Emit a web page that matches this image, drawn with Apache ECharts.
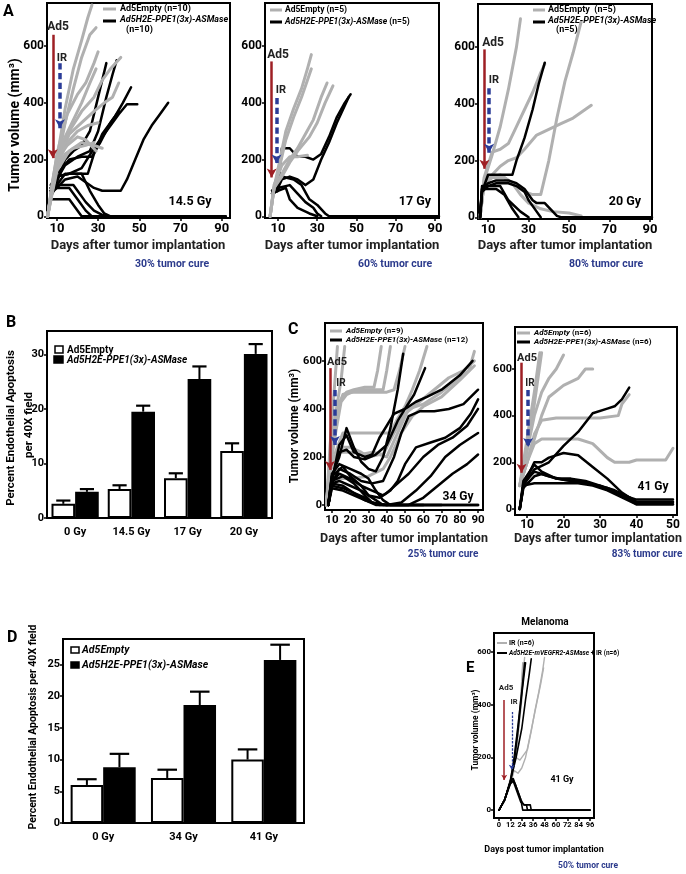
<!DOCTYPE html>
<html><head><meta charset="utf-8">
<script src="https://cdn.jsdelivr.net/npm/echarts@6/dist/echarts.min.js"></script>
<style>html,body{margin:0;padding:0;background:#fff}#c{width:686px;height:874px}</style>
</head><body><div id="c"></div>
<script>
const FONT = 'Roboto, "Noto Sans", Arial, sans-serif';
const GRAY = '#b0b0b0', RED = '#9e1f24', BLUE = '#2b3c98', NAVY = '#2b3a8c';

// ---------- tick labels ----------
const aTicksX = [10, 30, 50, 70, 90];
const volTicks = [0, 200, 400, 600];
const c1TicksX = [10, 20, 30, 40, 50, 60, 70, 80, 90];
const c2TicksX = [10, 20, 30, 40, 50];
const eTicksX = [0, 12, 24, 36, 48, 60, 72, 84, 96];
const bTicksY = [0, 10, 20, 30];
const dTicksY = [0, 5, 10, 15, 20, 25];

// ---------- Panel A: 14.5 Gy ----------
const a1Gray = [
  [[5.5,0],[8,120],[10,200],[14,380],[18,520],[22,620],[25,700],[27,745]],
  [[5.5,0],[8,110],[10,180],[14,330],[18,450],[22,560],[26,640],[29,665]],
  [[5.5,0],[8,120],[10,220],[15,360],[20,430],[24,470],[28,540],[30,580]],
  [[5.5,0],[8,110],[10,200],[16,300],[22,370],[28,420],[32,480],[36,520],[41,560]],
  [[5.5,0],[8,110],[10,190],[16,290],[22,330],[28,370],[33,400],[37,420],[40,470]],
  [[5.5,0],[8,100],[10,180],[15,260],[20,300],[25,320],[30,330]],
  [[5.5,0],[8,90],[10,160],[16,230],[22,260],[28,250],[32,240]],
  [[5.5,0],[8,120],[10,200],[15,250],[20,280],[24,270],[29,230]],
  [[5.5,0],[8,100],[10,170],[14,220],[18,240],[24,250],[28,260]],
  [[5.5,0],[8,130],[10,210],[14,280],[18,340],[22,400],[26,470],[29,520]]
];
const a1Black = [
  [[7,80],[10,120],[14,200],[18,230],[22,250],[26,300],[30,420],[34,540]],
  [[7,90],[10,130],[14,180],[20,210],[26,230],[30,300],[34,420],[37,500],[39,550]],
  [[7,70],[10,110],[14,150],[20,150],[25,150],[28,220],[32,290],[38,350],[42,400],[46,455]],
  [[7,90],[10,140],[16,150],[22,170],[28,240],[34,300],[40,360],[44,395],[49,395]],
  [[7,80],[10,100],[14,130],[20,140],[24,120],[28,100],[32,90],[41,90],[44,130],[48,200],[52,270],[56,320],[60,360],[64,400]],
  [[7,60],[10,60],[16,60],[19,30],[22,0],[92,0]],
  [[7,90],[10,100],[16,100],[20,60],[24,20],[27,0]],
  [[7,100],[10,110],[18,110],[24,50],[28,20],[32,5],[35,0]],
  [[7,110],[10,140],[16,150],[22,150],[26,90],[30,40],[33,10],[36,0]],
  [[7,100],[10,150],[16,200],[22,210],[27,210],[31,260],[36,330],[40,370]]
];
// ---------- Panel A: 17 Gy ----------
const a2Gray = [
  [[6,0],[8,100],[11,200],[14,300],[18,380],[22,450],[25,520],[27,570]],
  [[6,0],[8,100],[11,180],[14,270],[18,350],[22,420],[25,480],[27,520]],
  [[6,0],[8,100],[12,150],[16,200],[20,240],[24,290],[28,340],[32,420],[35,470]],
  [[6,0],[8,100],[12,140],[16,190],[20,230],[26,280],[30,330],[34,400],[38,460]],
  [[6,0],[8,110],[12,180],[16,210],[20,210],[25,215]]
];
const a2Black = [
  [[7,80],[10,90],[12,240],[16,240],[20,210],[24,210],[28,200],[32,220],[36,280],[40,350],[44,400],[47,430]],
  [[7,90],[10,100],[12,130],[16,140],[20,130],[24,110],[28,130],[32,200],[36,260],[40,330],[44,390],[46,420]],
  [[7,80],[10,100],[16,110],[20,80],[24,50],[28,30],[30,10],[32,0]],
  [[7,90],[10,110],[12,140],[18,130],[22,110],[26,60],[30,40],[34,10],[36,0],[92,0]],
  [[7,80],[10,90],[14,100],[16,60],[20,30],[26,10],[30,0]]
];
// ---------- Panel A: 20 Gy ----------
const a3Gray = [
  [[6,0],[8,130],[12,220],[16,320],[20,450],[24,600],[26,700]],
  [[6,0],[8,140],[12,230],[16,240],[20,260],[24,320],[28,380],[32,440],[36,510],[38,540]],
  [[6,0],[8,120],[12,150],[16,180],[20,200],[24,210],[28,240],[34,290],[40,310],[46,330],[52,350],[58,380],[61,395]],
  [[6,0],[8,120],[12,140],[16,150],[20,130],[24,110],[28,90],[32,80],[36,80],[40,200],[44,350],[48,480],[52,580],[56,690]],
  [[6,0],[8,120],[12,140],[18,140],[22,120],[26,80],[30,50],[36,30],[42,20],[50,15],[56,5]]
];
const a3Black = [
  [[6,0],[7,90],[10,150],[14,150],[18,150],[22,150],[24,200],[28,280],[32,380],[35,470],[38,545]],
  [[6,0],[7,100],[10,120],[14,130],[20,130],[24,120],[28,100],[32,60],[34,50],[38,50],[42,20],[44,5],[46,0],[91,0]],
  [[6,0],[7,90],[10,110],[14,120],[20,120],[24,110],[28,90],[30,60],[34,20],[36,0]],
  [[6,0],[7,100],[10,100],[14,100],[18,80],[22,30],[25,0]],
  [[6,0],[7,110],[10,110],[16,110],[20,60],[26,20],[30,0]]
];
// ---------- Panel B ----------
const bCats = ['0 Gy', '14.5 Gy', '17 Gy', '20 Gy'];
const bEmpty = [2.6, 5.3, 7.3, 12.3];
const bEmptySem = [0.6, 0.7, 0.9, 1.4];
const bAsm = [4.8, 19.5, 25.5, 30.1];
const bAsmSem = [0.5, 1.1, 2.3, 1.8];
// ---------- Panel C: 34 Gy ----------
const c1Gray = [
  [[7,0],[9,250],[11,450],[13,660]],
  [[7,0],[9,200],[12,380],[15,520],[17,660]],
  [[7,0],[9,180],[12,350],[15,440],[18,470],[22,480],[28,490],[33,490],[35,560],[37,660]],
  [[7,0],[9,150],[12,300],[15,430],[18,460],[24,480],[30,480],[38,480],[40,560],[42,660]],
  [[7,0],[9,200],[12,380],[16,460],[20,470],[30,470],[40,470],[44,480],[47,560],[50,660]],
  [[7,0],[9,150],[12,220],[16,300],[20,300],[30,300],[38,300],[42,300],[46,360],[50,410],[54,480],[58,560],[62,660]],
  [[7,0],[9,150],[14,240],[20,240],[26,220],[30,200],[36,210],[40,200],[46,300],[52,400],[60,420],[70,470],[78,520],[85,560],[88,640]],
  [[7,0],[9,140],[14,220],[20,220],[26,210],[32,220],[38,210],[44,300],[50,380],[58,430],[66,480],[74,530],[82,560],[88,600]],
  [[7,0],[9,100],[14,110],[20,110],[30,120],[38,150],[42,200],[48,300],[54,370],[60,410],[70,450],[80,520],[88,580]]
];
const c1Black = [
  [[8,0],[10,120],[14,200],[18,320],[22,240],[26,180],[30,150],[34,140],[38,200],[42,320],[46,480],[49,630]],
  [[8,0],[10,100],[14,250],[18,290],[22,220],[28,200],[32,210],[36,280],[40,330],[44,380],[50,400],[55,460],[61,570]],
  [[8,0],[10,110],[14,220],[18,230],[22,200],[28,190],[34,210],[40,250],[46,350],[50,400],[56,430],[62,450],[70,480],[80,540],[87,600]],
  [[8,0],[10,90],[14,150],[20,130],[26,100],[32,90],[38,100],[44,200],[48,300],[52,370],[58,390],[66,390],[74,400],[82,420],[90,480]],
  [[8,0],[10,100],[14,130],[20,110],[26,80],[32,60],[38,40],[42,60],[46,100],[50,170],[56,240],[64,260],[72,280],[80,320],[86,380],[90,440]],
  [[8,0],[10,90],[14,100],[20,80],[26,60],[30,40],[36,30],[40,50],[46,90],[52,130],[60,200],[68,250],[76,280],[84,330],[90,400]],
  [[8,0],[10,80],[16,70],[22,50],[28,30],[32,10],[40,0],[48,10],[56,60],[64,120],[72,200],[80,250],[86,280],[90,300]],
  [[8,0],[10,70],[16,60],[22,40],[28,20],[34,0],[52,0],[60,30],[68,80],[76,130],[84,170],[90,210]],
  [[8,0],[10,90],[16,80],[22,50],[28,20],[34,5],[40,0],[90,0]],
  [[8,0],[10,100],[16,120],[22,90],[28,40],[32,10],[36,0],[90,0]],
  [[8,0],[10,120],[16,160],[20,120],[26,80],[30,40],[34,20],[38,0],[70,0]],
  [[8,0],[10,130],[14,170],[20,150],[26,130],[30,110],[34,60],[38,20],[42,0],[60,0]]
];
// ---------- Panel C: 41 Gy ----------
const c2Gray = [
  [[8,100],[10,300],[12,500],[13.5,670]],
  [[8,100],[10,250],[12,450],[14,670]],
  [[8,100],[10,250],[12,400],[14,500],[16,560],[18,600],[20,660]],
  [[8,100],[10,200],[12,300],[14,400],[16,480],[20,530],[24,560],[26,600],[28,600]],
  [[8,100],[10,200],[12,320],[14,380],[18,390],[22,390],[26,390],[30,390],[35,400],[36,450],[38,490]],
  [[8,100],[10,200],[12,280],[14,300],[20,300],[24,300],[28,280],[32,220],[34,200],[38,200],[40,210],[46,210],[48,210],[50,260]]
];
const c2Black = [
  [[8,0],[9,100],[12,170],[16,200],[20,270],[24,330],[28,410],[32,430],[34,440],[36,470],[38,520]],
  [[8,0],[9,100],[12,200],[14,200],[16,220],[20,240],[24,230],[28,180],[32,130],[36,70],[40,30],[50,30]],
  [[8,0],[9,120],[12,190],[14,160],[18,130],[22,120],[26,110],[30,100],[34,80],[38,50],[40,30],[50,30]],
  [[8,0],[9,90],[12,140],[14,150],[18,130],[22,130],[26,120],[30,100],[34,70],[38,40],[40,20],[50,20]],
  [[8,0],[9,100],[12,110],[16,110],[20,110],[24,110],[28,100],[32,80],[36,50],[40,20],[50,20]],
  [[8,0],[9,110],[12,160],[16,140],[20,125],[24,120],[28,105],[32,90],[36,60],[40,40],[50,40]]
];
// ---------- Panel D ----------
const dCats = ['0 Gy', '34 Gy', '41 Gy'];
const dEmpty = [6.0, 7.1, 10.0];
const dEmptySem = [0.9, 1.3, 1.6];
const dAsm = [8.8, 18.6, 25.7];
const dAsmSem = [2.1, 2.1, 2.4];
// ---------- Panel E: Melanoma ----------
const eGray = [
  [[0,0],[6,40],[12,110],[16,180],[20,300],[23,430],[25,560]],
  [[0,0],[6,40],[12,100],[16,170],[20,280],[24,420],[26,540],[27,580]],
  [[0,0],[6,40],[12,110],[17,200],[21,330],[24,470],[26,560]],
  [[0,0],[6,40],[12,110],[16,180],[18,200],[22,190],[26,210],[30,230],[34,300],[38,380],[42,450],[46,530],[48,580]],
  [[0,0],[6,35],[12,100],[16,150],[20,140],[24,160],[28,200],[32,270],[36,340],[40,410],[44,480],[47,540]],
  [[0,0],[6,40],[12,120],[16,200],[20,320],[24,460],[25,540]]
];
const eBlack = [
  [[0,0],[6,40],[12,110],[16,200],[20,320],[24,450],[27,560]],
  [[0,0],[6,40],[12,110],[18,200],[24,310],[28,420],[32,520],[34,575]],
  [[0,0],[6,40],[12,110],[14,120],[17,100],[20,70],[23,40],[25,0],[96,0]],
  [[0,0],[6,40],[12,105],[15,120],[19,80],[23,40],[26,20],[29,20],[30,0],[96,0]],
  [[0,0],[6,40],[12,100],[15,110],[19,70],[23,30],[27,20],[33,20],[34,0],[96,0]],
  [[0,0],[6,40],[12,110],[16,180],[20,300],[24,440],[28,560]]
];
// ---------- treatment arrows (data coords: [day, volume]) ----------
const arrA1 = {ad5: [[8,640],[8,205]], ir: [[11.5,540],[11.5,310]]};
const arrA2 = {ad5: [[6.8,546],[6.8,137]], ir: [[9.3,417],[9.3,186]]};
const arrA3 = {ad5: [[8.2,592],[8.2,171]], ir: [[10.5,455],[10.5,228]]};
const arrC1 = {ad5: [[8.9,570],[8.9,146]], ir: [[11.6,479],[11.6,250]]};
const arrC2 = {ad5: [[8.5,627],[8.5,155]], ir: [[10.3,510],[10.3,266]]};
const arrE  = {ad5: [[5.5,418],[5.5,114]], ir: [[13.5,373],[13.5,152]]};

// ================= build =================
const grids = [], xAxes = [], yAxes = [], series = [], graphics = [];

function addGrid(l, t, w, h) {
  grids.push({left: l, top: t, width: w, height: h, show: true, borderColor: '#000', borderWidth: 2, backgroundColor: 'rgba(0,0,0,0)'});
  return grids.length - 1;
}
function valX(gi, min, max, ticks, fs, margin) {
  xAxes.push({type: 'value', gridIndex: gi, min, max, splitLine: {show: false},
    axisLine: {show: true, onZero: false, lineStyle: {color: '#000', width: 2}},
    axisTick: {show: true, customValues: ticks, length: 3, lineStyle: {color: '#000', width: 1.5}},
    axisLabel: {customValues: ticks, fontFamily: FONT, fontWeight: 'bold', fontSize: fs, color: '#000', margin: margin || 4}});
}
function valY(gi, min, max, ticks, fs) {
  yAxes.push({type: 'value', gridIndex: gi, min, max, splitLine: {show: false},
    axisLine: {show: true, onZero: false, lineStyle: {color: '#000', width: 2}},
    axisTick: {show: true, customValues: ticks, length: 3, lineStyle: {color: '#000', width: 1.5}},
    axisLabel: {customValues: ticks, fontFamily: FONT, fontWeight: 'bold', fontSize: fs, color: '#000', margin: 3}});
}
function catX(gi, cats, fs) {
  xAxes.push({type: 'category', gridIndex: gi, data: cats,
    axisLine: {show: true, lineStyle: {color: '#000', width: 2}}, axisTick: {show: false},
    axisLabel: {fontFamily: FONT, fontWeight: 'bold', fontSize: fs, color: '#000', margin: 9}});
}
function addLines(gi, lines, color, width, z) {
  const first = series.length;
  lines.forEach(d => series.push({type: 'line', xAxisIndex: gi, yAxisIndex: gi, data: d,
    showSymbol: false, symbol: 'none', silent: true, clip: true, z,
    lineStyle: {color, width, join: 'round', cap: 'round'}}));
  return first;
}
function addArrows(seriesIdx, arr, redW, blueW) {
  series[seriesIdx].markLine = {silent: true, symbol: ['none', 'arrow'], symbolSize: [redW * 3, redW * 3.6],
    label: {show: false}, animation: false,
    data: [
      [{coord: arr.ad5[0], lineStyle: {color: RED, width: redW, type: 'solid'}, itemStyle: {color: RED}}, {coord: arr.ad5[1]}],
      [{coord: arr.ir[0], lineStyle: {color: BLUE, width: blueW, type: [blueW * 1.8, blueW]}, itemStyle: {color: BLUE}}, {coord: arr.ir[1]}]
    ]};
}
function errSeries(gi, means, sems, side, gap) {
  return {type: 'custom', xAxisIndex: gi, yAxisIndex: gi, silent: true, z: 5,
    data: means.map((m, i) => [i, m, m + sems[i]]),
    encode: {x: 0, y: [1, 2]},
    renderItem(params, api) {
      const i = api.value(0), m = api.value(1), top = api.value(2);
      const band = api.size([1, 0])[0];
      const bw = band * (1 - gap) / 2;
      const p0 = api.coord([i, m]), p1 = api.coord([i, top]);
      const cx = p0[0] + side * bw / 2;
      const cap = bw * 0.6;
      return {type: 'group', children: [
        {type: 'line', shape: {x1: cx, y1: p0[1], x2: cx, y2: p1[1]}, style: {stroke: '#000', lineWidth: 2}},
        {type: 'line', shape: {x1: cx - cap / 2, y1: p1[1], x2: cx + cap / 2, y2: p1[1]}, style: {stroke: '#000', lineWidth: 2.2}}
      ]};
    }};
}
function addBars(gi, white, whiteSem, black, blackSem, gap) {
  const g = (gap * 100) + '%';
  series.push({type: 'bar', xAxisIndex: gi, yAxisIndex: gi, data: white, barGap: '0%', barCategoryGap: g, silent: true, z: 2,
    itemStyle: {color: '#fff', borderColor: '#000', borderWidth: 2}});
  series.push({type: 'bar', xAxisIndex: gi, yAxisIndex: gi, data: black, barGap: '0%', barCategoryGap: g, silent: true, z: 2,
    itemStyle: {color: '#000', borderColor: '#000', borderWidth: 2}});
  series.push(errSeries(gi, white, whiteSem, -1, gap));
  series.push(errSeries(gi, black, blackSem, 1, gap));
}
function txt(x, y, s, size, o) {
  o = o || {};
  const st = {text: s, fontFamily: FONT, fontSize: size, fontWeight: o.w || 'bold', fontStyle: o.i ? 'italic' : 'normal',
    fill: o.c || '#000', align: o.a || 'left', verticalAlign: 'middle'};
  if (o.rich) st.rich = o.rich;
  graphics.push({type: 'text', x, y, rotation: o.rot || 0, z: 100, silent: true, style: st});
}
function seg(x1, y1, x2, y2, color, w) {
  graphics.push({type: 'line', z: 100, silent: true, shape: {x1, y1, x2, y2}, style: {stroke: color, lineWidth: w}});
}
function box(x, y, w, h, fill) {
  graphics.push({type: 'rect', z: 100, silent: true, shape: {x, y, width: w, height: h}, style: {fill, stroke: '#000', lineWidth: 1.5}});
}
const RICH = (fs) => ({i: {fontStyle: 'italic', fontWeight: 'bold', fontFamily: FONT, fontSize: fs}, n: {fontWeight: 'bold', fontFamily: FONT, fontSize: fs}});

// ---- Panel A ----
const gA1 = addGrid(47, 3, 183, 215);  valX(gA1, 5.2, 94, aTicksX, 13, 4); valY(gA1, -6, 752, volTicks, 12);
const gA2 = addGrid(265, 3, 174, 215); valX(gA2, 3.4, 92, aTicksX, 13, 4); valY(gA2, -6, 752, volTicks, 12);
const gA3 = addGrid(478, 4, 174, 215); valX(gA3, 5, 91, aTicksX, 13, 4); valY(gA3, -6, 752, volTicks, 12);
addArrows(addLines(gA1, a1Black, '#000', 2.5, 3), arrA1, 2.5, 3.5); addLines(gA1, a1Gray, GRAY, 3, 4);
addArrows(addLines(gA2, a2Black, '#000', 2.5, 3), arrA2, 2.5, 3.5); addLines(gA2, a2Gray, GRAY, 3, 4);
addArrows(addLines(gA3, a3Black, '#000', 2.5, 4), arrA3, 2.5, 3.5); addLines(gA3, a3Gray, GRAY, 3, 3);

// ---- Panel B ----
const gB = addGrid(47, 331, 225, 187); catX(gB, bCats, 11); valY(gB, 0, 34.3, bTicksY, 11);
addBars(gB, bEmpty, bEmptySem, bAsm, bAsmSem, 0.16);

// ---- Panel C ----
const gC1 = addGrid(325, 323, 158, 187); valX(gC1, 6.2, 92.7, c1TicksX, 11.5, 4); valY(gC1, -21, 758, volTicks, 11);
const gC2 = addGrid(515, 327, 162, 188); valX(gC2, 6.7, 51.1, c2TicksX, 12, 4); valY(gC2, -26, 780, volTicks, 11);
addLines(gC1, c1Gray, GRAY, 3, 3); addArrows(addLines(gC1, c1Black, '#000', 2.5, 4), arrC1, 2.5, 3.5);
addArrows(addLines(gC2, c2Gray, GRAY, 3, 3), arrC2, 2.5, 3.5); addLines(gC2, c2Black, '#000', 2.5, 4);

// ---- Panel D ----
const gD = addGrid(63, 639, 241, 184); catX(gD, dCats, 11); valY(gD, 0, 29, dTicksY, 11);
addBars(gD, dEmpty, dEmptySem, dAsm, dAsmSem, 0.19);

// ---- Panel E ----
const gE = addGrid(494, 633, 100, 185); valX(gE, -5.3, 100.2, eTicksX, 7.5, 3); valY(gE, -30, 673, volTicks, 8);
addArrows(addLines(gE, eGray, GRAY, 1.4, 3), arrE, 1.5, 1.3); addLines(gE, eBlack, '#000', 1.6, 4);

// ---------- texts ----------
txt(3, 12, 'A', 16); txt(6, 323, 'B', 16); txt(288, 330, 'C', 16); txt(7, 638, 'D', 16); txt(466, 668, 'E', 15);
// A
txt(15, 125, 'Tumor volume (mm³)', 14, {a: 'center', rot: Math.PI / 2});
[[138, '30% tumor cure'], [352, '60% tumor cure'], [565, '80% tumor cure']].forEach((p, k) => {
  txt(p[0], 246, 'Days after tumor implantation', 13, {a: 'center', c: '#222'});
  txt([172, 395, 606][k], 264, p[1], 10.5, {a: 'center', c: NAVY});
});
txt(58, 27, 'Ad5', 12, {a: 'center', c: '#222'}); txt(62, 58, 'IR', 11, {a: 'center', c: '#222'}); txt(190, 202, '14.5 Gy', 12.5, {a: 'center'});
txt(278, 55, 'Ad5', 12, {a: 'center', c: '#222'}); txt(281, 90, 'IR', 11, {a: 'center', c: '#222'}); txt(415, 202, '17 Gy', 12.5, {a: 'center'});
txt(493, 43, 'Ad5', 12, {a: 'center', c: '#222'}); txt(494, 80, 'IR', 11, {a: 'center', c: '#222'}); txt(625, 202, '20 Gy', 12.5, {a: 'center'});
// A legends
seg(103, 9, 116, 9, GRAY, 3); txt(120, 9, 'Ad5Empty (n=10)', 9);
seg(103, 21, 116, 21, '#000', 3); txt(120, 20, 'Ad5H2E-PPE1(3x)-ASMase', 9, {i: true}); txt(126, 30, '(n=10)', 9);
seg(270, 10, 282, 10, GRAY, 3); txt(285, 10, 'Ad5Empty (n=5)', 8.5);
seg(270, 22, 282, 22, '#000', 3); txt(285, 22, '{i|Ad5H2E-PPE1(3x)-ASMase} {n|(n=5)}', 8.5, {rich: RICH(8.5)});
seg(533, 10, 545, 10, GRAY, 3); txt(548, 10, 'Ad5Empty  (n=5)', 9);
seg(533, 22, 545, 22, '#000', 3); txt(548, 21, 'Ad5H2E-PPE1(3x)-ASMase', 9, {i: true}); txt(556, 30, '(n=5)', 9);
// B
txt(11, 428, 'Percent Endothelial Apoptosis', 11.5, {a: 'center', rot: Math.PI / 2});
txt(29, 425, 'per 40X field', 11.5, {a: 'center', rot: Math.PI / 2});
box(55, 346, 8, 7, '#fff'); txt(67, 350, 'Ad5Empty', 10);
box(54, 356, 9, 7, '#000'); txt(67, 360, 'Ad5H2E-PPE1(3x)-ASMase', 10, {i: true});
// C
txt(295, 426, 'Tumor volume (mm³)', 12, {a: 'center', rot: Math.PI / 2});
txt(404, 539, 'Days after tumor implantation', 12.5, {a: 'center', c: '#222'});
txt(598, 539, 'Days after tumor implantation', 12.5, {a: 'center', c: '#222'});
txt(443, 554, '25% tumor cure', 10, {a: 'center', c: NAVY});
txt(647, 554, '83% tumor cure', 10, {a: 'center', c: NAVY});
txt(337, 362, 'Ad5', 11, {a: 'center', c: '#222'}); txt(341, 383, 'IR', 10, {a: 'center', c: '#222'}); txt(458, 497, '34 Gy', 12, {a: 'center'});
txt(527, 358, 'Ad5', 11, {a: 'center', c: '#222'}); txt(530, 383, 'IR', 10, {a: 'center', c: '#222'}); txt(653, 487, '41 Gy', 12, {a: 'center'});
seg(330, 331, 342, 331, GRAY, 3); txt(346, 331, '{i|Ad5Empty} {n|(n=9)}', 8, {rich: RICH(8)});
seg(330, 340, 342, 340, '#000', 3); txt(346, 340, '{i|Ad5H2E-PPE1(3x)-ASMase} {n|(n=12)}', 8, {rich: RICH(8)});
seg(517, 333, 530, 333, GRAY, 3); txt(534, 333, '{i|Ad5Empty} {n|(n=6)}', 8, {rich: RICH(8)});
seg(517, 342, 530, 342, '#000', 3); txt(534, 342, '{i|Ad5H2E-PPE1(3x)-ASMase} {n|(n=6)}', 8, {rich: RICH(8)});
// D
txt(33, 727, 'Percent Endothelial Apoptosis per 40X field', 10.5, {a: 'center', rot: Math.PI / 2});
box(71, 647, 8, 6, '#fff'); txt(82, 650, 'Ad5Empty', 10.5, {i: true});
box(71, 662, 8, 6, '#000'); txt(82, 665, 'Ad5H2E-PPE1(3x)-ASMase', 10.5, {i: true});
// E
txt(545, 622, 'Melanoma', 10, {a: 'center'});
txt(476, 730, 'Tumor volume (mm³)', 8.5, {a: 'center', rot: Math.PI / 2});
seg(497, 643, 507, 643, GRAY, 2); txt(509, 643, 'IR (n=6)', 7);
seg(497, 653, 507, 653, '#000', 2); txt(509, 653, '{i|Ad5H2E-mVEGFR2-ASMase} {n|+ IR (n=6)}', 6.5, {rich: RICH(6.5)});
txt(506, 688, 'Ad5', 8, {a: 'center', c: '#222'}); txt(514, 702, 'IR', 7.5, {a: 'center', c: '#222'});
txt(562, 780, '41 Gy', 9, {a: 'center'});
txt(544, 850, 'Days post tumor implantation', 9, {a: 'center'});
txt(588, 866, '50% tumor cure', 8.5, {a: 'center', c: NAVY});

const chart = echarts.init(document.getElementById('c'), null, {renderer: 'canvas'});
chart.setOption({animation: false, backgroundColor: '#fff', grid: grids, xAxis: xAxes, yAxis: yAxes, series, graphic: graphics});
</script></body></html>
